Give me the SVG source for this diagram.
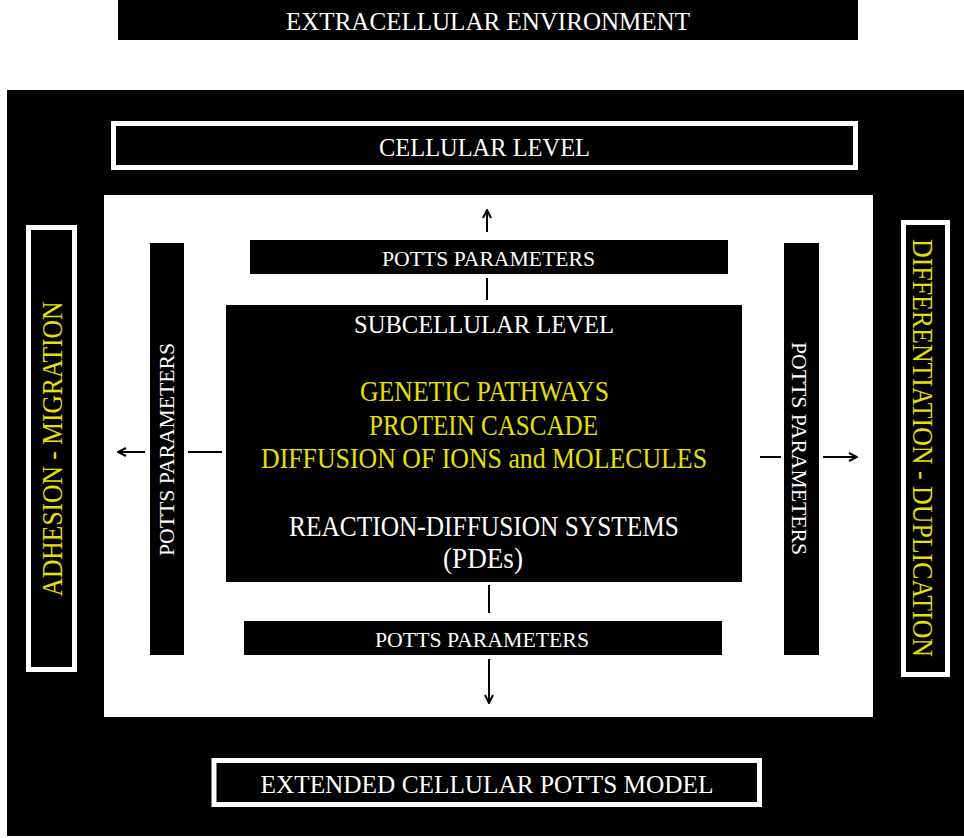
<svg xmlns="http://www.w3.org/2000/svg" width="964" height="838" viewBox="0 0 964 838">
<style>
text{font-family:"Liberation Serif","DejaVu Serif",serif;}
.w{fill:#ffffff;}
.y{fill:#e6e000;}
.blk{fill:#000000;}
.frame{fill:#000000;stroke:#ffffff;stroke-width:5;}
.big{font-size:26px;}
.mid{font-size:29px;}
.sm{font-size:22px;}
.conn{stroke:#000000;stroke-width:2;fill:none;}
</style>
<defs>
<marker id="ah" viewBox="0 0 10 10" refX="9" refY="5" markerWidth="10" markerHeight="10" markerUnits="userSpaceOnUse" orient="auto">
<path d="M1,1 L9,5 L1,9" fill="none" stroke="#000000" stroke-width="2"/>
</marker>
</defs>
<rect x="0" y="0" width="964" height="838" fill="#ffffff"/>

<g id="extracellular">
<rect class="blk" x="118" y="0" width="740" height="40"/>
<text class="w big" x="488" y="30" text-anchor="middle" textLength="404" lengthAdjust="spacingAndGlyphs">EXTRACELLULAR ENVIRONMENT</text>
</g>

<g id="ecpm-frame">
<rect class="blk" x="7" y="90" width="957" height="746"/>
</g>

<g id="cellular-level">
<rect class="frame" x="113.5" y="123.5" width="742" height="44"/>
<text class="w big" x="484.5" y="156" text-anchor="middle" textLength="211" lengthAdjust="spacingAndGlyphs">CELLULAR LEVEL</text>
</g>

<g id="cell-area">
<rect x="104" y="195" width="769" height="522" fill="#ffffff"/>
</g>

<g id="adhesion-migration">
<rect class="frame" x="28.5" y="227.5" width="46" height="442"/>
<text class="y mid" transform="translate(62,449) rotate(-90)" x="0" y="0" text-anchor="middle" textLength="295" lengthAdjust="spacingAndGlyphs">ADHESION - MIGRATION</text>
</g>

<g id="differentiation-duplication">
<rect class="frame" x="903.5" y="222.5" width="44" height="452"/>
<text class="y mid" transform="translate(913,448) rotate(90)" x="0" y="0" text-anchor="middle" textLength="418" lengthAdjust="spacingAndGlyphs">DIFFERENTIATION - DUPLICATION</text>
</g>

<g id="potts-top">
<rect class="blk" x="250" y="240" width="478" height="34"/>
<text class="w sm" x="488.5" y="266" text-anchor="middle" textLength="213" lengthAdjust="spacingAndGlyphs">POTTS PARAMETERS</text>
</g>

<g id="potts-bottom">
<rect class="blk" x="244" y="621" width="478" height="34"/>
<text class="w sm" x="482" y="647" text-anchor="middle" textLength="214" lengthAdjust="spacingAndGlyphs">POTTS PARAMETERS</text>
</g>

<g id="potts-left">
<rect class="blk" x="150" y="243" width="34" height="412"/>
<text class="w sm" transform="translate(174,449.5) rotate(-90)" x="0" y="0" text-anchor="middle" textLength="213" lengthAdjust="spacingAndGlyphs">POTTS PARAMETERS</text>
</g>

<g id="potts-right">
<rect class="blk" x="784" y="243" width="35" height="412"/>
<text class="w sm" transform="translate(792,448.5) rotate(90)" x="0" y="0" text-anchor="middle" textLength="213" lengthAdjust="spacingAndGlyphs">POTTS PARAMETERS</text>
</g>

<g id="subcellular-level">
<rect class="blk" x="226" y="305" width="516" height="277"/>
<text class="w big" x="484" y="333" text-anchor="middle" textLength="260" lengthAdjust="spacingAndGlyphs">SUBCELLULAR LEVEL</text>
<text class="y mid" x="484.5" y="401" text-anchor="middle" textLength="249" lengthAdjust="spacingAndGlyphs">GENETIC PATHWAYS</text>
<text class="y mid" x="483.5" y="435" text-anchor="middle" textLength="229" lengthAdjust="spacingAndGlyphs">PROTEIN CASCADE</text>
<text class="y mid" x="484" y="468" text-anchor="middle" textLength="446" lengthAdjust="spacingAndGlyphs">DIFFUSION OF IONS and MOLECULES</text>
<text class="w mid" x="484" y="536" text-anchor="middle" textLength="390" lengthAdjust="spacingAndGlyphs">REACTION-DIFFUSION SYSTEMS</text>
<text class="w mid" x="483" y="568" text-anchor="middle" textLength="80" lengthAdjust="spacingAndGlyphs">(PDEs)</text>
</g>

<g id="extended-cpm">
<rect class="frame" x="214" y="760.5" width="545.5" height="44"/>
<text class="w big" x="487" y="793" text-anchor="middle" textLength="453" lengthAdjust="spacingAndGlyphs">EXTENDED CELLULAR POTTS MODEL</text>
</g>

<g id="connectors">
<line class="conn" x1="487" y1="278" x2="487" y2="300"/>
<line class="conn" x1="487" y1="232" x2="487" y2="210" marker-end="url(#ah)"/>
<line class="conn" x1="489" y1="585" x2="489" y2="613"/>
<line class="conn" x1="489" y1="659" x2="489" y2="703" marker-end="url(#ah)"/>
<line class="conn" x1="188" y1="452" x2="222" y2="452"/>
<line class="conn" x1="145" y1="452" x2="118" y2="452" marker-end="url(#ah)"/>
<line class="conn" x1="760" y1="457" x2="781" y2="457"/>
<line class="conn" x1="823" y1="457" x2="857" y2="457" marker-end="url(#ah)"/>
</g>
</svg>
